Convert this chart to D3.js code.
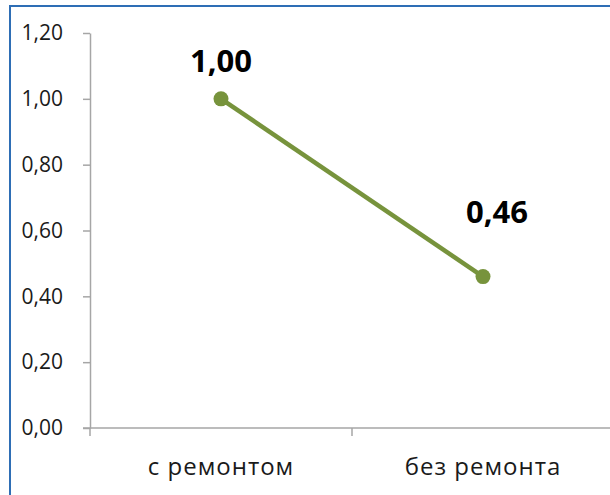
<!DOCTYPE html>
<html>
<head>
<meta charset="utf-8">
<script src="https://cdn.jsdelivr.net/npm/d3@7"></script>
<style>
  html, body { margin: 0; padding: 0; background: #fff; }
  svg { display: block; }
</style>
</head>
<body>
<svg id="chart" width="610" height="495"></svg>
<script>
// Chart data
const categories = ["с ремонтом", "без ремонта"];
const values = [1.00, 0.46];
const valueLabels = ["1,00", "0,46"];
const yTicks = [0, 0.2, 0.4, 0.6, 0.8, 1.0, 1.2];

const svg = d3.select("#chart");
const W = 610, H = 495;

// Outer frame (extends past the right and bottom edges)
svg.append("rect")
  .attr("x", 10).attr("y", 6)
  .attr("width", 640).attr("height", 520)
  .attr("fill", "#fff")
  .attr("stroke", "#2E6EB5")
  .attr("stroke-width", 2);

const plot = { left: 90, right: 614, top: 33, bottom: 428 };

const x = d3.scaleBand()
  .domain(categories)
  .range([plot.left, plot.right]);

const y = d3.scaleLinear()
  .domain([0, 1.2])
  .range([plot.bottom, plot.top]);

const fmt = v => d3.format(".2f")(v).replace(".", ",");
const axisColor = "#A6A6A6";
const font = "'Open Sans', sans-serif";

// Y axis
const yAxis = svg.append("g")
  .attr("transform", `translate(${plot.left},0)`)
  .call(d3.axisLeft(y).tickValues(yTicks).tickFormat(fmt).tickSize(7).tickPadding(20).tickSizeOuter(0));
yAxis.select(".domain").attr("stroke", axisColor).attr("stroke-width", 1.5);
yAxis.selectAll(".tick line").attr("stroke", axisColor).attr("stroke-width", 1.5);
yAxis.selectAll(".tick text")
  .attr("fill", "#1a1a1a")
  .style("font-family", font)
  .style("font-size", "21px");

// X axis with tick marks at category boundaries
const xAxis = svg.append("g")
  .attr("transform", `translate(0,${plot.bottom})`);
xAxis.append("line")
  .attr("x1", plot.left - 7).attr("x2", W + 10)
  .attr("y1", 0).attr("y2", 0)
  .attr("stroke", axisColor).attr("stroke-width", 1.5);
const boundaries = [plot.left, ...categories.slice(1).map(c => x(c))];
xAxis.selectAll(".xtick")
  .data(boundaries)
  .join("line")
  .attr("class", "xtick")
  .attr("x1", d => d).attr("x2", d => d)
  .attr("y1", 0).attr("y2", 8)
  .attr("stroke", axisColor).attr("stroke-width", 1.5);
xAxis.selectAll(".xlabel")
  .data(categories)
  .join("text")
  .attr("class", "xlabel")
  .attr("x", d => x(d) + x.bandwidth() / 2)
  .attr("y", 47)
  .attr("text-anchor", "middle")
  .attr("fill", "#1a1a1a")
  .style("font-family", font)
  .style("font-size", "24px")
  .style("letter-spacing", "1px")
  .text(d => d);

// Series line and markers
const pts = categories.map((c, i) => ({ c, v: values[i], label: valueLabels[i] }));
const cx = d => x(d.c) + x.bandwidth() / 2;

svg.append("path")
  .datum(pts)
  .attr("fill", "none")
  .attr("stroke", "#77933C")
  .attr("stroke-width", 4.5)
  .attr("d", d3.line().x(cx).y(d => y(d.v)));

svg.selectAll(".marker")
  .data(pts)
  .join("circle")
  .attr("class", "marker")
  .attr("cx", cx)
  .attr("cy", d => y(d.v))
  .attr("r", 7.5)
  .attr("fill", "#77933C");

// Value labels
const labelOffset = [{ dx: 0, dy: -27 }, { dx: 14, dy: -54 }];
svg.selectAll(".vlabel")
  .data(pts)
  .join("text")
  .attr("class", "vlabel")
  .attr("x", (d, i) => cx(d) + labelOffset[i].dx)
  .attr("y", (d, i) => y(d.v) + labelOffset[i].dy)
  .attr("text-anchor", "middle")
  .attr("fill", "#000")
  .style("font-family", font)
  .style("font-weight", "bold")
  .style("font-size", "31px")
  .text(d => d.label);
</script>
</body>
</html>
